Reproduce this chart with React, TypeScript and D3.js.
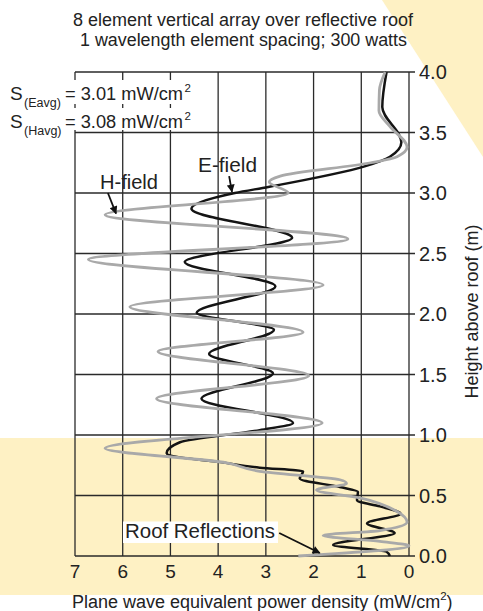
import * as d3 from "d3";

// chart size (the reference picture)
const width = 483,
	height = 611;

// plot frame
const left = 75,
	right = 409,
	top = 72,
	bottom = 556;

// axis ticks
const xTicks = [7, 6, 5, 4, 3, 2, 1, 0];
const yTicks = [0.0, 0.5, 1.0, 1.5, 2.0, 2.5, 3.0, 3.5, 4.0];

// E-field (black): height above roof (m) and power density (mW/cm2)
const eHeight = [
	4.0, 3.71, 3.42, 3.3, 3.22, 3.05, 3.0, 2.87, 2.63, 2.43, 2.23, 2.01, 1.87, 1.67, 1.51, 1.3, 1.1, 1.04, 0.94,
	0.85, 0.815, 0.78, 0.73, 0.7, 0.64, 0.57, 0.53, 0.46, 0.41, 0.35, 0.27, 0.19, 0.09, 0.035, 0.0,
];
const eValue = [
	0.47, 0.56, 0.16, 0.4, 0.93, 2.95, 3.65, 4.56, 2.45, 4.7, 2.8, 4.45, 2.83, 4.19, 2.85, 4.35, 2.43, 3.13, 4.8,
	5.08, 4.8, 4.03, 3.13, 2.22, 2.29, 1.45, 1.07, 1.09, 0.61, 0.18, 0.88, 0.3, 1.59, 0.47, 0.4,
];

// H-field (gray)
const hHeight = [
	4.0, 3.85, 3.68, 3.55, 3.38, 3.3, 3.25, 3.14, 3.09, 3.0, 2.82, 2.62, 2.45, 2.24, 2.06, 1.85, 1.69, 1.49, 1.3,
	1.1, 0.89, 0.77, 0.7, 0.63, 0.6, 0.545, 0.48, 0.37, 0.28, 0.21, 0.17, 0.12, 0.085, 0.0,
];
const hValue = [
	0.5, 0.62, 0.63, 0.4, 0.04, 0.25, 0.8, 2.7, 2.93, 2.53, 6.37, 1.28, 6.72, 1.8, 5.85, 2.22, 5.26, 2.1, 5.29,
	1.82, 6.37, 3.82, 3.13, 1.45, 1.31, 1.94, 1.03, 0.26, 0.04, 0.61, 1.8, 0.61, 0.0, 2.32,
];

const font = "'Liberation Sans', Arial, Helvetica, sans-serif";
const yellow = "#fef1c4";
const gridColor = "#2a2a2a";

export default function App() {
	const x = d3.scaleLinear().domain([0, 7]).range([right, left]);
	const y = d3.scaleLinear().domain([0, 4]).range([bottom, top]);

	const line = d3
		.line<[number, number]>()
		.x((d) => x(d[1]))
		.y((d) => y(d[0]))
		.curve(d3.curveMonotoneY);

	const ePath = line(eHeight.map((h, i) => [h, eValue[i]]));
	const hPath = line(hHeight.map((h, i) => [h, hValue[i]]));

	// annotation arrows, in data units: [value, height] start -> tip
	const arrows = [
		[[3.77, 3.14], [3.71, 3.01]],
		[[6.31, 3.0], [6.14, 2.83]],
		[[2.72, 0.19], [1.87, 0.025]],
	];

	return (
		<svg width={width} height={height} style={{ position: "absolute", left: 0, top: 0 }} fontFamily={font}>
			<defs>
				<marker id="head" viewBox="0 0 10 10" refX="9" refY="5" markerWidth="11" markerHeight="8" markerUnits="userSpaceOnUse" orient="auto">
					<path d="M0,0 L10,5 L0,10 z" fill="#111" />
				</marker>
			</defs>
			<rect width={width} height={height} fill="white" />
			{/* yellow background bands */}
			<path d={`M382,0 L${width},0 L${width},157 Z`} fill={yellow} />
			<rect x={0} y={438} width={width} height={157} fill={yellow} />

			{/* title */}
			<text x={243} y={25.5} textAnchor="middle" fontSize={17.5} textLength={340} lengthAdjust="spacingAndGlyphs" fill="#222">
				8 element vertical array over reflective roof
			</text>
			<text x={243.5} y={45.5} textAnchor="middle" fontSize={17.5} textLength={327} lengthAdjust="spacingAndGlyphs" fill="#222">
				1 wavelength element spacing; 300 watts
			</text>

			{/* grid */}
			<g stroke={gridColor} strokeWidth={1.3}>
				{xTicks.map((t) => (
					<line key={"vx" + t} x1={x(t)} x2={x(t)} y1={top} y2={bottom} />
				))}
				{yTicks.map((t) => (
					<line key={"hy" + t} x1={left} x2={right + 6} y1={y(t)} y2={y(t)} />
				))}
			</g>

			{/* averages, on white boxes */}
			<rect x={62} y={80} width={133} height={24} fill="white" />
			<rect x={62} y={108} width={133} height={22} fill="white" />
			<g fill="#222">
				<text x={10} y={100} fontSize={19}>S</text>
				<text x={24} y={107} fontSize={12.5}>(Eavg)</text>
				<text x={65} y={100} fontSize={17.5} textLength={118} lengthAdjust="spacingAndGlyphs">= 3.01 mW/cm</text>
				<text x={184.5} y={92} fontSize={11.5}>2</text>
				<text x={10} y={128} fontSize={19}>S</text>
				<text x={24} y={135} fontSize={12.5}>(Havg)</text>
				<text x={65} y={128} fontSize={17.5} textLength={118} lengthAdjust="spacingAndGlyphs">= 3.08 mW/cm</text>
				<text x={184.5} y={120} fontSize={11.5}>2</text>
			</g>

			{/* field curves */}
			<path d={ePath} fill="none" stroke="#141414" strokeWidth={2.5} strokeLinejoin="round" />
			<path d={hPath} fill="none" stroke="#a9a9a9" strokeWidth={2.8} strokeLinejoin="round" />

			{/* labels */}
			<text x={198} y={172} fontSize={19.5} fill="#222" textLength={59} lengthAdjust="spacingAndGlyphs">E-field</text>
			<text x={100} y={189} fontSize={19.5} fill="#222" textLength={58} lengthAdjust="spacingAndGlyphs">H-field</text>
			<rect x={123} y={521.5} width={155} height={21.5} fill="white" />
			<text x={125} y={537.5} fontSize={20} fill="#222" textLength={150} lengthAdjust="spacingAndGlyphs">Roof Reflections</text>
			{arrows.map((a, i) => (
				<line key={"ar" + i} x1={x(a[0][0])} y1={y(a[0][1])} x2={x(a[1][0])} y2={y(a[1][1])} stroke="#111" strokeWidth={1.8} markerEnd="url(#head)" />
			))}

			{/* axis tick labels */}
			<g fill="#222">
				{yTicks.map((t) => (
					<text key={"yl" + t} x={419} y={y(t)} dy="0.36em" fontSize={20}>
						{d3.format(".1f")(t)}
					</text>
				))}
				{xTicks.map((t) => (
					<text key={"xl" + t} x={x(t)} y={578} textAnchor="middle" fontSize={19}>
						{t}
					</text>
				))}
			</g>

			{/* axis titles */}
			<text transform="translate(478,311.5) rotate(-90)" textAnchor="middle" fontSize={18} fill="#222">
				Height above roof (m)
			</text>
			<text x={72} y={608} fontSize={18} fill="#222">
				Plane wave equivalent power density (mW/cm
				<tspan fontSize={11.5} dy={-8}>2</tspan>
				<tspan dy={8}>)</tspan>
			</text>
		</svg>
	);
}
